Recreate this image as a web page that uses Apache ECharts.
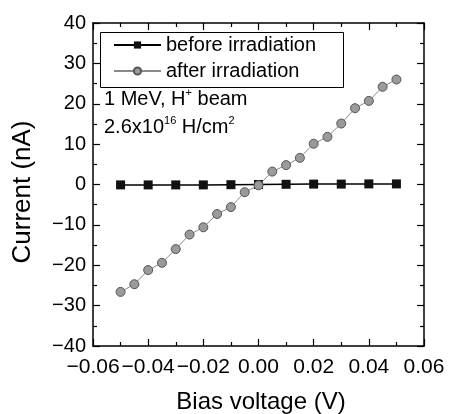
<!DOCTYPE html>
<html>
<head>
<meta charset="utf-8">
<script src="https://cdn.jsdelivr.net/npm/echarts@6/dist/echarts.min.js"></script>
<style>
html,body{margin:0;padding:0;background:#fff;}
#chart{width:452px;height:414px;}
</style>
</head>
<body>
<div id="chart"></div>
<script>
var beforeX = [-0.05,-0.04,-0.03,-0.02,-0.01,0.00,0.01,0.02,0.03,0.04,0.05];
var beforeY = [-0.1,-0.1,-0.1,-0.1,-0.05,0.0,0.05,0.1,0.1,0.15,0.15];
var afterX = [-0.05,-0.045,-0.04,-0.035,-0.03,-0.025,-0.02,-0.015,-0.01,-0.005,0.00,0.005,0.01,0.015,0.02,0.025,0.03,0.035,0.04,0.045,0.05];
var afterY = [-26.6,-24.7,-21.2,-19.4,-16.0,-12.4,-10.6,-7.3,-5.6,-1.9,-0.2,3.2,4.8,6.6,10.1,11.8,15.1,18.9,20.7,24.2,26.0];
var seriesNames = ['before irradiation','after irradiation'];
var xTitle = 'Bias voltage (V)';
var yTitle = 'Current (nA)';

var FONT = '"Liberation Sans", Arial, sans-serif';
function pairs(xs, ys){ return xs.map(function(x,i){ return [x, ys[i]]; }); }
function fmtX(v){ var s = Math.abs(v) < 1e-9 ? '0.00' : v.toFixed(2); return s.replace('-', '\u2212'); }
function fmtY(v){ return String(Math.round(v)).replace('-', '\u2212'); }

var chart = echarts.init(document.getElementById('chart'));
var axisCommon = {
  axisLine:{show:true, onZero:false, lineStyle:{color:'#000', width:1.5}},
  axisTick:{show:true, inside:true, length:7, lineStyle:{color:'#000', width:1.2}},
  minorTick:{show:true, splitNumber:2, length:4, lineStyle:{color:'#000', width:1.2}},
  splitLine:{show:false}
};
var rich = {
  n:{fontSize:20, fontFamily:FONT, fill:'#000', verticalAlign:'bottom', lineHeight:22},
  s:{fontSize:11, fontFamily:FONT, fill:'#000', verticalAlign:'top', lineHeight:22, padding:[0,0,10,0]}
};
chart.setOption({
  animation:false,
  backgroundColor:'#fff',
  grid:{left:93, right:28, top:23, bottom:68},
  legend:{
    left:108, top:30, orient:'vertical',
    itemWidth:47, itemHeight:9, itemGap:6,
    textStyle:{fontSize:20, fontFamily:FONT, color:'#000', lineHeight:20},
    data:seriesNames
  },
  xAxis:[
    Object.assign({type:'value', position:'bottom', min:-0.06, max:0.06, interval:0.02,
      axisLabel:{formatter:fmtX, fontSize:21, fontFamily:FONT, color:'#000', margin:11}}, axisCommon),
    Object.assign({type:'value', position:'top', min:-0.06, max:0.06, interval:0.02,
      axisLabel:{show:false}}, axisCommon)
  ],
  yAxis:[
    Object.assign({type:'value', position:'left', min:-40, max:40, interval:10,
      axisLabel:{formatter:fmtY, fontSize:20, fontFamily:FONT, color:'#000', margin:7}}, axisCommon),
    Object.assign({type:'value', position:'right', min:-40, max:40, interval:10,
      axisLabel:{show:false}}, axisCommon)
  ],
  graphic:[
    {type:'rect', left:98, top:30, shape:{width:243, height:55}, style:{fill:null, stroke:'#000', lineWidth:1}, z:0},
    {type:'text', left:104, top:87, style:{text:'{n|1 MeV, H}{s|+}{n| beam}', rich:rich}},
    {type:'text', left:104, top:115, style:{text:'{n|2.6x10}{s|16}{n| H/cm}{s|2}', rich:rich}},
    {type:'text', x:261, y:402, style:{text:xTitle, fontSize:24, fontFamily:FONT, fill:'#000', align:'center', verticalAlign:'middle'}},
    {type:'text', x:23, y:192, rotation:Math.PI/2, style:{text:yTitle, fontSize:26, fontFamily:FONT, fill:'#000', align:'center', verticalAlign:'middle'}}
  ],
  series:[
    {name:seriesNames[0], type:'line', data:pairs(beforeX, beforeY),
     symbol:'rect', symbolSize:9, lineStyle:{color:'#000', width:1.5},
     itemStyle:{color:'#111', borderColor:'#000', borderWidth:0}, z:3},
    {name:seriesNames[1], type:'line', data:pairs(afterX, afterY),
     symbol:'circle', symbolSize:9, lineStyle:{color:'#8a8a8a', width:1},
     itemStyle:{color:'#9a9a9a', borderColor:'#555', borderWidth:1}, z:4}
  ]
});
</script>
</body>
</html>
